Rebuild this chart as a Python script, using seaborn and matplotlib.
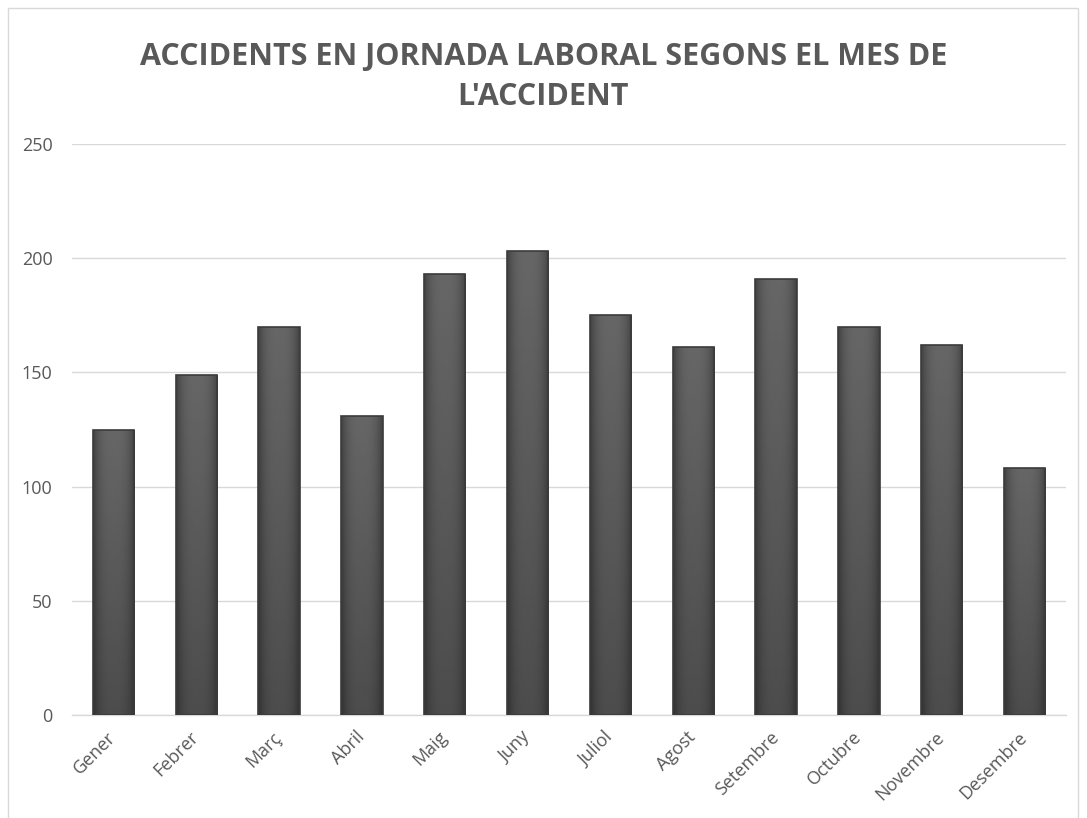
import matplotlib
matplotlib.use("Agg")
import matplotlib.pyplot as plt
import seaborn as sns
import pandas as pd
import numpy as np
from matplotlib.patches import Rectangle

months = ["Gener", "Febrer", "Març", "Abril", "Maig", "Juny",
          "Juliol", "Agost", "Setembre", "Octubre", "Novembre", "Desembre"]
accidents = [125, 149, 170, 131, 193, 203, 175, 161, 191, 170, 162, 108]
yticks = [0, 50, 100, 150, 200, 250]
title = "ACCIDENTS EN JORNADA LABORAL SEGONS EL MES DE\nL'ACCIDENT"

sns.set_style("white")
plt.rcParams['font.family'] = ['Open Sans', 'DejaVu Sans']

text_col = '#595959'
grid_col = '#d9d9d9'

df = pd.DataFrame({'Mes': months, 'Accidents': accidents})

fig = plt.figure(figsize=(10.87, 8.18), dpi=100)
ax = fig.add_axes([0.0662, 0.1259, 0.9145, 0.698])

sns.barplot(data=df, x='Mes', y='Accidents', ax=ax, color='#5c5c5c',
            width=0.5, saturation=1, edgecolor='#3b3b3b', linewidth=1.2, zorder=3)

ax.set_ylim(0, 250)
ax.set_xlim(-0.5, len(months) - 0.5)

# shaded fill for each bar, clipped to the bar itself
xs = np.linspace(-1, 1, 40)
side = 1 - 0.35 * np.abs(xs) ** 3
for bar in list(ax.patches):
    x0, y0 = bar.get_x(), bar.get_y()
    w, h = bar.get_width(), bar.get_height()
    vert = np.linspace(0.30, 0.40, 60)[:, None]   # bottom -> top grey level
    shade = vert * side[None, :]
    img = ax.imshow(shade, cmap='gray', vmin=0, vmax=1, origin='lower',
                    extent=(x0, x0 + w, y0, y0 + h), aspect='auto',
                    zorder=3.5, interpolation='bilinear')
    img.set_clip_path(bar)
    bar.set_facecolor('none')
    bar.set_zorder(4)

ax.set_xlim(-0.5, len(months) - 0.5)
ax.set_ylim(0, 250)
ax.set_yticks(yticks)
ax.yaxis.grid(True, color=grid_col, linewidth=1, zorder=0)
ax.set_axisbelow(True)
for s in ['top', 'right', 'left']:
    ax.spines[s].set_visible(False)
ax.spines['bottom'].set_color(grid_col)
ax.spines['bottom'].set_linewidth(1)
ax.set_xlabel('')
ax.set_ylabel('')
ax.tick_params(axis='both', length=0, colors=text_col, labelsize=13)
ax.tick_params(axis='y', pad=14)
ax.tick_params(axis='x', pad=14)
plt.setp(ax.get_xticklabels(), rotation=45, ha='right', va='center',
         rotation_mode='anchor')

fig.text(0.5, 0.906, title, ha='center', va='center', fontsize=22,
         fontweight='bold', color=text_col, linespacing=1.45)

# chart border
fig.patches.append(Rectangle((8 / 1087, -0.01), 1070 / 1087, 1 - 8 / 818 + 0.01,
                             transform=fig.transFigure, fill=False,
                             edgecolor=grid_col, linewidth=1))

fig.savefig('out.png', dpi=100, facecolor='white')
